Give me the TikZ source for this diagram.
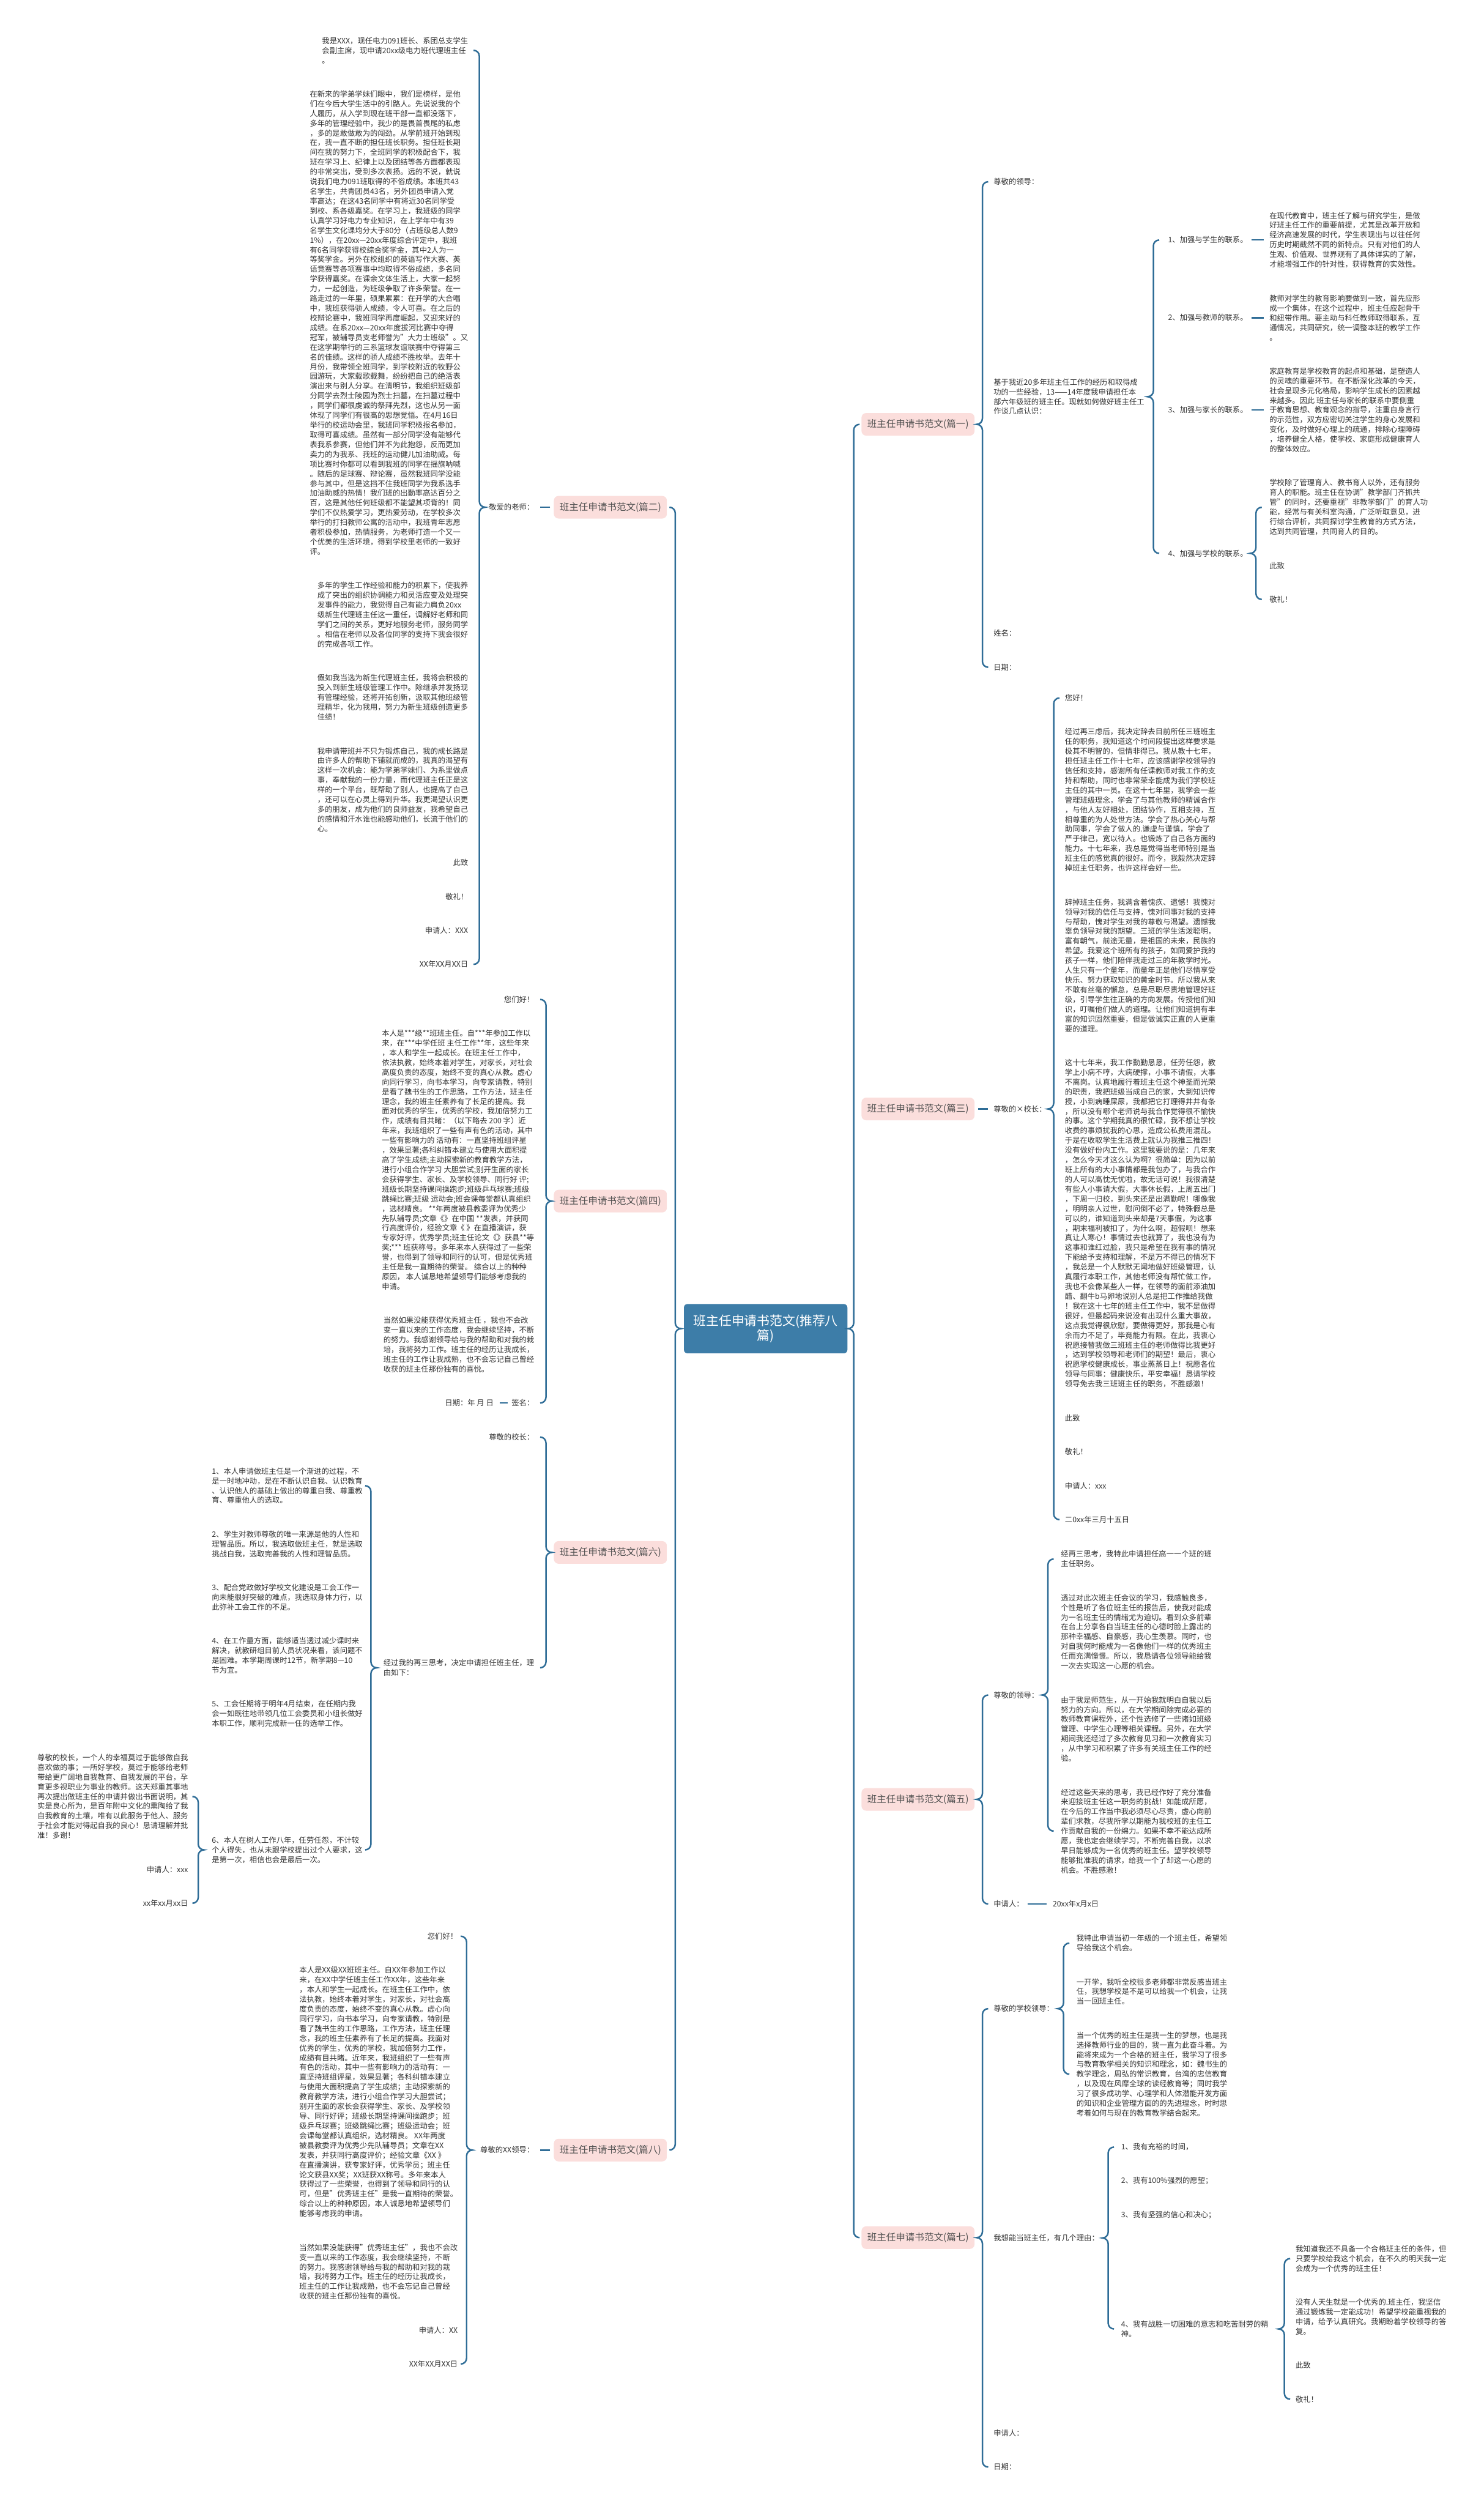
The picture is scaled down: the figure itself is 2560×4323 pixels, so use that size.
\documentclass[tikz,border=0pt]{standalone}
\usepackage{fontspec}
\setmainfont{Noto Sans CJK SC}
\usetikzlibrary{calc}

\definecolor{rootblue}{HTML}{3D7DA8}
\definecolor{linkblue}{HTML}{2F6D97}
\definecolor{branchpink}{HTML}{FBDEDC}
\definecolor{branchtext}{HTML}{505050}
\definecolor{leaftext}{HTML}{333333}

\tikzset{
  root/.style={fill=rootblue, text=white, rounded corners=3pt, minimum width=141pt,
    minimum height=42.5pt, align=center, inner sep=2pt, font=\fontsize{11}{13}\selectfont},
  branch/.style={fill=branchpink, text=branchtext, rounded corners=4pt, minimum width=97.5pt,
    minimum height=19.5pt, inner sep=1pt, font=\fontsize{8.2}{10}\selectfont},
  leaf/.style={text=leaftext, align=left, inner sep=0pt, font=\fontsize{6.5}{8.4}\selectfont},
  link/.style={draw=linkblue, line width=1.3pt},
  tie/.style={link, shorten <=3pt, shorten >=5pt},
}

% brace opening to the right: [gap]{parent}{first child}{last child}
\newcommand\bracer[4][9.5pt]{%
  \coordinate (bt) at ([xshift=-#1]#3.west);
  \coordinate (bm) at (#2.center -| bt);
  \coordinate (bb) at (#4.west -| bt);
  \draw[link] ([xshift=5pt]bt) to[out=180,in=90] ([yshift=-5pt]bt) -- ([yshift=5pt]bm)
    to[out=-90,in=0] ([xshift=-5pt]bm) to[out=0,in=90] ([yshift=-5pt]bm) -- ([yshift=5pt]bb)
    to[out=-90,in=180] ([xshift=5pt]bb);
}
% brace opening to the left
\newcommand\bracel[4][9.5pt]{%
  \coordinate (bt) at ([xshift=#1]#3.east);
  \coordinate (bm) at (#2.center -| bt);
  \coordinate (bb) at (#4.east -| bt);
  \draw[link] ([xshift=-5pt]bt) to[out=0,in=90] ([yshift=-5pt]bt) -- ([yshift=5pt]bm)
    to[out=-90,in=180] ([xshift=5pt]bm) to[out=180,in=90] ([yshift=-5pt]bm) -- ([yshift=5pt]bb)
    to[out=-90,in=0] ([xshift=-5pt]bb);
}

\begin{document}
\begin{tikzpicture}[x=0.5pt,y=-0.5pt]
\useasboundingbox (0,0) rectangle (2560,4323);
\fill[white] (0,0) rectangle (2560,4323);

% centre and the eight branches
\node[root] (root) at (1321,2292) {班主任申请书范文(推荐八\\篇)};
\node[branch, anchor=west] (p1) at (1486,732) {班主任申请书范文(篇一)};
\node[branch, anchor=west] (p3) at (1486,1913) {班主任申请书范文(篇三)};
\node[branch, anchor=west] (p5) at (1486,3104) {班主任申请书范文(篇五)};
\node[branch, anchor=west] (p7) at (1486,3860) {班主任申请书范文(篇七)};
\node[branch, anchor=east] (p2) at (1151,875) {班主任申请书范文(篇二)};
\node[branch, anchor=east] (p4) at (1151,2072) {班主任申请书范文(篇四)};
\node[branch, anchor=east] (p6) at (1151,2678) {班主任申请书范文(篇六)};
\node[branch, anchor=east] (p8) at (1151,3709) {班主任申请书范文(篇八)};
\bracer[6.5pt]{root}{p1}{p7}
\bracel[7pt]{root}{p2}{p8}

% 篇一
\node[leaf, anchor=west] (p1a) at (1714,313.5) {尊敬的领导：};
\node[leaf, anchor=west] (p1b) at (1714,684.3) {基于我近20多年班主任工作的经历和取得成\\功的一些经验，13——14年度我申请担任本\\部六年级班的班主任。现就如何做好班主任工\\作谈几点认识：};
\node[leaf, anchor=west] (p1c) at (1714,1092.6) {姓名：};
\node[leaf, anchor=west] (p1d) at (1714,1151.1) {日期：};
\bracer{p1}{p1a}{p1d}
\node[leaf, anchor=west] (p1b1) at (2015,414) {1、加强与学生的联系。};
\node[leaf, anchor=west] (p1b2) at (2015,548.1) {2、加强与教师的联系。};
\node[leaf, anchor=west] (p1b3) at (2015,707.4) {3、加强与家长的联系。};
\node[leaf, anchor=west] (p1b4) at (2015,954.6) {4、加强与学校的联系。};
\bracer[12.5pt]{p1b}{p1b1}{p1b4}
\node[leaf, anchor=west] (p1b1x) at (2190,414) {在现代教育中，班主任了解与研究学生，是做\\好班主任工作的重要前提，尤其是改革开放和\\经济高速发展的时代，学生表现出与以往任何\\历史时期截然不同的新特点。只有对他们的人\\生观、价值观、世界观有了具体详实的了解，\\才能增强工作的针对性，获得教育的实效性。};
\node[leaf, anchor=west] (p1b2x) at (2190,548.1) {教师对学生的教育影响要做到一致，首先应形\\成一个集体，在这个过程中，班主任应起骨干\\和纽带作用。要主动与科任教师取得联系，互\\通情况，共同研究，统一调整本班的教学工作\\。};
\node[leaf, anchor=west] (p1b3x) at (2190,707.4) {家庭教育是学校教育的起点和基础，是塑造人\\的灵魂的重要环节。在不断深化改革的今天，\\社会呈现多元化格局，影响学生成长的因素越\\来越多。因此 班主任与家长的联系中要侧重\\于教育思想、教育观念的指导，注重自身言行\\的示范性，双方应密切关注学生的身心发展和\\变化，及时做好心理上的疏通，排除心理障碍\\，培养健全人格，使学校、家庭形成健康育人\\的整体效应。};
\node[leaf, anchor=west] (p1b4a) at (2190,875.1) {学校除了管理育人、教书育人以外，还有服务\\育人的职能。班主任在协调"教学部门齐抓共\\管"的同时，还要重视"非教学部门"的育人功\\能，经常与有关科室沟通，广泛听取意见，进\\行综合评析，共同探讨学生教育的方式方法，\\达到共同管理，共同育人的目的。};
\node[leaf, anchor=west] (p1b4b) at (2190,975.6) {此致};
\node[leaf, anchor=west] (p1b4c) at (2190,1034.1) {敬礼！};
\draw[tie] (p1b1.east) -- (p1b1x.west);
\draw[tie] (p1b2.east) -- (p1b2x.west);
\draw[tie] (p1b3.east) -- (p1b3x.west);
\bracer[11.5pt]{p1b4}{p1b4a}{p1b4c}

% 篇三
\node[leaf, anchor=west] (p3a) at (1714,1913) {尊敬的×校长：};
\draw[tie] (p3.east) -- (p3a.west);
\node[leaf, anchor=west] (p3a1) at (1837,1204) {您好！};
\node[leaf, anchor=west] (p3a2) at (1837,1380.1) {经过再三虑后，我决定辞去目前所任三班班主\\任的职务，我知道这个时间段提出这样要求是\\极其不明智的，但情非得已。我从教十七年，\\担任班主任工作十七年，应该感谢学校领导的\\信任和支持，感谢所有任课教师对我工作的支\\持和帮助，同时也非常荣幸能成为我们学校班\\主任的其中一员。在这十七年里，我学会一些\\管理班级理念，学会了与其他教师的精诚合作\\，与他人友好相处，团结协作，互相支持，互\\相尊重的为人处世方法。学会了热心关心与帮\\助同事，学会了做人的.谦虚与谨慎，学会了\\严于律己，宽以待人。也锻炼了自己各方面的\\能力。十七年来，我总是觉得当老师特别是当\\班主任的感觉真的很好。而今，我毅然决定辞\\掉班主任职务，也许这样会好一些。};
\node[leaf, anchor=west] (p3a3) at (1837,1665.4) {辞掉班主任务，我满含着愧疚、遗憾！我愧对\\领导对我的信任与支持，愧对同事对我的支持\\与帮助，愧对学生对我的尊敬与渴望。遗憾我\\辜负领导对我的期望。三班的学生活泼聪明，\\富有朝气，前途无量，是祖国的未来，民族的\\希望。我爱这个班所有的孩子，如同爱护我的\\孩子一样，他们陪伴我走过三的年教学时光。\\人生只有一个童年，而童年正是他们尽情享受\\快乐、努力获取知识的黄金时节。所以我从来\\不敢有丝毫的懈怠，总是尽职尽责地管理好班\\级，引导学生往正确的方向发展。传授他们知\\识，叮嘱他们做人的道理。让他们知道拥有丰\\富的知识固然重要，但是做诚实正直的人更重\\要的道理。};
\node[leaf, anchor=west] (p3a4) at (1837,2110.3) {这十七年来，我工作勤勤恳恳，任劳任怨，教\\学上小病不哼，大病硬撑，小事不请假，大事\\不离岗。认真地履行着班主任这个神圣而光荣\\的职责，我把班级当成自己的家，大到知识传\\授，小到病睡屎尿，我都把它打理得井井有条\\，所以没有哪个老师说与我合作觉得很不愉快\\的事。这个学期我真的很忙碌，我不想让学校\\收费的事烦扰我的心思，造成公私费用混乱。\\于是在收取学生生活费上就认为我推三推四！\\没有做好份内工作。这里我要说的是：几年来\\，怎么今天才这么认为啊？很简单：因为以前\\班上所有的大小事情都是我包办了，与我合作\\的人可以高忱无忧啦，故无话可说！我很清楚\\有些人小事请大假，大事休长假，上周五出门\\，下周一归校，到头来还是出满勤呢！哪像我\\，明明亲人过世，慰问倒不必了，特殊假总是\\可以的，谁知道到头来却是7天事假，为这事\\，期末福利被扣了，为什么啊，超假呗！想来\\真让人寒心！事情过去也就算了，我也没有为\\这事和谁红过脸，我只是希望在我有事的情况\\下能给予支持和理解，不是万不得已的情况下\\，我总是一个人默默无闻地做好班级管理，认\\真履行本职工作，其他老师没有帮忙做工作，\\我也不会像某些人一样，在领导的面前添油加\\醋、翻牛b马卵地说别人总是把工作推给我做\\！我在这十七年的班主任工作中，我不是做得\\很好，但最起码来说没有出现什么重大事故，\\这点我觉得很欣慰，要做得更好，那我是心有\\余而力不足了，毕竟能力有限。在此，我衷心\\祝愿接替我做三班班主任的老师做得比我更好\\，达到学校领导和老师们的期望！最后，衷心\\祝愿学校健康成长，事业蒸蒸日上！祝愿各位\\领导与同事：健康快乐，平安幸福！恳请学校\\领导免去我三班班主任的职务，不胜感激！};
\node[leaf, anchor=west] (p3a5) at (1837,2446) {此致};
\node[leaf, anchor=west] (p3a6) at (1837,2504.5) {敬礼！};
\node[leaf, anchor=west] (p3a7) at (1837,2563) {申请人：xxx};
\node[leaf, anchor=west] (p3a8) at (1837,2621.5) {二0xx年三月十五日};
\bracer{p3a}{p3a1}{p3a8}

% 篇五
\node[leaf, anchor=west] (p5a) at (1714,2924) {尊敬的领导：};
\node[leaf, anchor=west] (p5b) at (1714,3284.5) {申请人：};
\node[leaf, anchor=west] (p5b1) at (1816,3284.5) {20xx年x月x日};
\bracer{p5}{p5a}{p5b}
\draw[tie] (p5b.east) -- (p5b1.west);
\node[leaf, anchor=west] (p5a1) at (1830,2689.3) {经再三思考，我特此申请担任高一一个班的班\\主任职务。};
\node[leaf, anchor=west] (p5a2) at (1830,2815) {透过对此次班主任会议的学习，我感触良多，\\个性是听了各位班主任的报告后，使我对能成\\为一名班主任的情绪尤为迫切。看到众多前辈\\在台上分享各自当班主任的心德时脸上露出的\\那种幸福感、自豪感，我心生羡慕。同时，也\\对自我何时能成为一名像他们一样的优秀班主\\任而充满憧憬。所以，我恳请各位领导能给我\\一次去实现这一心愿的机会。};
\node[leaf, anchor=west] (p5a3) at (1830,2982.7) {由于我是师范生，从一开始我就明白自我以后\\努力的方向。所以，在大学期间除完成必要的\\教师教育课程外，还个性选修了一些诸如班级\\管理、中学生心理等相关课程。另外，在大学\\期间我还经过了多次教育见习和一次教育实习\\，从中学习和积累了许多有关班主任工作的经\\验。};
\node[leaf, anchor=west] (p5a4) at (1830,3158.8) {经过这些天来的思考，我已经作好了充分准备\\来迎接班主任这一职务的挑战！如能成所愿，\\在今后的工作当中我必须尽心尽责，虚心向前\\辈们求教，尽我所学以期能为我校班的主任工\\作贡献自我的一份绵力。如果不幸不能达成所\\愿，我也定会继续学习，不断完善自我，以求\\早日能够成为一名优秀的班主任。望学校领导\\能够批准我的请求，给我一个了却这一心愿的\\机会。不胜感激！};
\bracer[11pt]{p5a}{p5a1}{p5a4}

% 篇七
\node[leaf, anchor=west] (p7a) at (1714,3465) {尊敬的学校领导：};
\node[leaf, anchor=west] (p7b) at (1714,3860.6) {我想能当班主任，有几个理由：};
\node[leaf, anchor=west] (p7c) at (1714,4197.3) {申请人：};
\node[leaf, anchor=west] (p7d) at (1714,4255.8) {日期：};
\bracer{p7}{p7a}{p7d}
\node[leaf, anchor=west] (p7a1) at (1857,3351.9) {我特此申请当初一年级的一个班主任，希望领\\导给我这个机会。};
\node[leaf, anchor=west] (p7a2) at (1857,3435.6) {一开学，我听全校很多老师都非常反感当班主\\任，我想学校是不是可以给我一个机会，让我\\当一回班主任。};
\node[leaf, anchor=west] (p7a3) at (1857,3578.1) {当一个优秀的班主任是我一生的梦想，也是我\\选择教师行业的目的，我一直为此奋斗着。为\\能将来成为一个合格的班主任，我学习了很多\\与教育教学相关的知识和理念，如：魏书生的\\教学理念，周弘的常识教育，台湾的忠信教育\\，以及现在风靡全球的读经教育等；同时我学\\习了很多成功学、心理学和人体潜能开发方面\\的知识和企业管理方面的的先进理念，时时思\\考着如何与现在的教育教学结合起来。};
\bracer[11pt]{p7a}{p7a1}{p7a3}
\node[leaf, anchor=west] (p7b1) at (1934,3703.8) {1、我有充裕的时间，};
\node[leaf, anchor=west] (p7b2) at (1934,3762.3) {2、我有100\%强烈的愿望；};
\node[leaf, anchor=west] (p7b3) at (1934,3820.8) {3、我有坚强的信心和决心；};
\node[leaf, anchor=west] (p7b4) at (1934,4017.5) {4、我有战胜一切困难的意志和吃苦耐劳的精\\神。};
\bracer[11pt]{p7b}{p7b1}{p7b4}
\node[leaf, anchor=west] (p7b4a) at (2235,3896.1) {我知道我还不具备一个合格班主任的条件，但\\只要学校给我这个机会，在不久的明天我一定\\会成为一个优秀的班主任！};
\node[leaf, anchor=west] (p7b4b) at (2235,3996.6) {没有人天生就是一个优秀的.班主任，我坚信\\通过锻炼我一定能成功！希望学校能重视我的\\申请，给予认真研究。我期盼着学校领导的答\\复。};
\node[leaf, anchor=west] (p7b4c) at (2235,4080.3) {此致};
\node[leaf, anchor=west] (p7b4d) at (2235,4138.8) {敬礼！};
\bracer{p7b4}{p7b4a}{p7b4d}

% 篇二
\node[leaf, anchor=east] (p2a) at (922,875) {敬爱的老师：};
\draw[tie] (p2.west) -- (p2a.east);
\node[leaf, anchor=east] (p2a1) at (808,86.8) {我是XXX，现任电力091班长、系团总支学生\\会副主席，现申请20xx级电力班代理班主任\\。};
\node[leaf, anchor=east] (p2a2) at (808,556.9) {在新来的学弟学妹们眼中，我们是榜样，是他\\们在今后大学生活中的引路人。先说说我的个\\人履历，从入学到现在班干部一直都没落下，\\多年的管理经验中，我少的是畏首畏尾的私虑\\，多的是敢做敢为的闯劲。从学前班开始到现\\在，我一直不断的担任班长职务。担任班长期\\间在我的努力下，全班同学的积极配合下，我\\班在学习上、纪律上以及团结等各方面都表现\\的非常突出，受到多次表扬。远的不说，就说\\说我们电力091班取得的不俗成绩。本班共43\\名学生，共青团员43名，另外团员申请入党\\率高达；在这43名同学中有将近30名同学受\\到校、系各级嘉奖。在学习上，我班级的同学\\认真学习好电力专业知识，在上学年中有39\\名学生文化课均分大于80分（占班级总人数9\\1\%），在20xx—20xx年度综合评定中，我班\\有6名同学获得校综合奖学金，其中2人为一\\等奖学金。另外在校组织的英语写作大赛、英\\语竞赛等各项赛事中均取得不俗成绩，多名同\\学获得嘉奖。在课余文体生活上，大家一起努\\力，一起创造，为班级争取了许多荣誉。在一\\路走过的一年里，硕果累累：在开学的大合唱\\中，我班获得骄人成绩，令人可喜。在之后的\\校辩论赛中，我班同学再度崛起，又迎来好的\\成绩。在系20xx—20xx年度拔河比赛中夺得\\冠军，被辅导员支老师誉为"大力士班级"。又\\在这学期举行的三系篮球友谊联赛中夺得第三\\名的佳绩。这样的骄人成绩不胜枚举。去年十\\月份，我带领全班同学，到学校附近的牧野公\\园游玩，大家载歌载舞，纷纷把自己的绝活表\\演出来与别人分享。在清明节，我组织班级部\\分同学去烈士陵园为烈士扫墓，在扫墓过程中\\，同学们都很虔诚的祭拜先烈，这也从另一面\\体现了同学们有很高的思想觉悟。在4月16日\\举行的校运动会里，我班同学积极报名参加，\\取得可喜成绩。虽然有一部分同学没有能够代\\表我系参赛，但他们并不为此抱怨，反而更加\\卖力的为我系、我班的运动健儿加油助威。每\\项比赛时你都可以看到我班的同学在摇旗呐喊\\。随后的足球赛、辩论赛，虽然我班同学没能\\参与其中，但是这挡不住我班同学为我系选手\\加油助威的热情！我们班的出勤率高达百分之\\百，这是其他任何班级都不能望其项背的！同\\学们不仅热爱学习，更热爱劳动，在学校多次\\举行的打扫教师公寓的活动中，我班青年志愿\\者积极参加，热情服务，为老师打造一个又一\\个优美的生活环境，得到学校里老师的一致好\\评。};
\node[leaf, anchor=east] (p2a3) at (808,1060.6) {多年的学生工作经验和能力的积累下，使我养\\成了突出的组织协调能力和灵活应变及处理突\\发事件的能力，我觉得自己有能力肩负20xx\\级新生代理班主任这一重任，调解好老师和同\\学们之间的关系，更好地服务老师，服务同学\\。相信在老师以及各位同学的支持下我会很好\\的完成各项工作。};
\node[leaf, anchor=east] (p2a4) at (808,1203.1) {假如我当选为新生代理班主任，我将会积极的\\投入到新生班级管理工作中。除继承并发扬现\\有管理经验，还将开拓创新，汲取其他班级管\\理精华，化为我用，努力为新生班级创造更多\\佳绩！};
\node[leaf, anchor=east] (p2a5) at (808,1362.4) {我申请带班并不只为锻炼自己，我的成长路是\\由许多人的帮助下铺就而成的，我真的渴望有\\这样一次机会：能为学弟学妹们、为系里做点\\事，奉献我的一份力量，而代理班主任正是这\\样的一个平台，既帮助了别人，也提高了自己\\，还可以在心灵上得到升华。我更渴望认识更\\多的朋友，成为他们的良师益友，我希望自己\\的感情和汗水谁也能感动他们，长流于他们的\\心。};
\node[leaf, anchor=east] (p2a6) at (808,1488.1) {此致};
\node[leaf, anchor=east] (p2a7) at (808,1546.6) {敬礼！};
\node[leaf, anchor=east] (p2a8) at (808,1605.1) {申请人：XXX};
\node[leaf, anchor=east] (p2a9) at (808,1663.6) {XX年XX月XX日};
\bracel{p2a}{p2a1}{p2a9}

% 篇四
\node[leaf, anchor=east] (p4a) at (922,1724) {您们好！};
\node[leaf, anchor=east] (p4b) at (922,2000.9) {本人是***级**班班主任。自***年参加工作以\\来，在***中学任班 主任工作**年，这些年来\\，本人和学生一起成长。在班主任工作中，\\依法执教，始终本着对学生，对家长，对社会\\高度负责的态度，始终不变的真心从教。虚心\\向同行学习，向书本学习，向专家请教，特别\\是看了魏书生的工作思路，工作方法，班主任\\理念，我的班主任素养有了长足的提高。我\\面对优秀的学生，优秀的学校，我加倍努力工\\作，成绩有目共睹：（以下略去 200 字）近\\年来，我班组织了一些有声有色的活动，其中\\一些有影响力的 活动有：一直坚持班组评星\\，效果显著;各科纠错本建立与使用大面积提\\高了学生成绩;主动探索新的教育教学方法，\\进行小组合作学习 大胆尝试;别开生面的家长\\会获得学生、家长、及学校领导、同行好 评;\\班级长期坚持课间操跑步;班级乒乓球赛;班级\\跳绳比赛;班级 运动会;班会课每堂都认真组织\\，选材精良。 **年两度被县教委评为优秀少\\先队辅导员;文章《》在中国 **发表，并获同\\行高度评价，经验文章《 》在直播演讲，获\\专家好评，优秀学员;班主任论文《》获县**等\\奖;*** 班获称号。多年来本人获得过了一些荣\\誉，也得到了领导和同行的认可，但是优秀班\\主任是我一直期待的荣誉。 综合以上的种种\\原因， 本人诚恳地希望领导们能够考虑我的\\申请。};
\node[leaf, anchor=east] (p4c) at (922,2319.8) {当然如果没能获得优秀班主任 ，我也不会改\\变一直以来的工作态度，我会继续坚持，不断\\的努力。我感谢领导给与我的帮助和对我的栽\\培，我将努力工作。班主任的经历让我成长，\\班主任的工作让我成熟，也不会忘记自己曾经\\收获的班主任那份独有的喜悦。};
\node[leaf, anchor=east] (p4d) at (922,2420.3) {签名：};
\node[leaf, anchor=east] (p4d1) at (852,2420.3) {日期：年 月 日};
\bracel[10pt]{p4}{p4a}{p4d}
\draw[tie] (p4d.west) -- (p4d1.east);

% 篇六
\node[leaf, anchor=east] (p6a) at (922,2479) {尊敬的校长：};
\node[leaf, anchor=east] (p6b) at (922,2877) {经过我的再三思考，决定申请担任班主任，理\\由如下：};
\bracel[10pt]{p6}{p6a}{p6b}
\node[leaf, anchor=east] (p6b1) at (626,2562.9) {1、本人申请做班主任是一个渐进的过程，不\\是一时地冲动，是在不断认识自我、认识教育\\、认识他人的基础上做出的尊重自我、尊重教\\育、尊重他人的选取。};
\node[leaf, anchor=east] (p6b2) at (626,2663.4) {2、学生对教师尊敬的唯一来源是他的人性和\\理智品质。所以，我选取做班主任，就是选取\\挑战自我，选取完善我的人性和理智品质。};
\node[leaf, anchor=east] (p6b3) at (626,2755.5) {3、配合党政做好学校文化建设是工会工作一\\向未能很好突破的难点，我选取身体力行，以\\此弥补工会工作的不足。};
\node[leaf, anchor=east] (p6b4) at (626,2856) {4、在工作量方面，能够适当透过减少课时来\\解决，就教研组目前人员状况来看，该问题不\\是困难。本学期周课时12节，新学期8—10\\节为宜。};
\node[leaf, anchor=east] (p6b5) at (626,2956.5) {5、工会任期将于明年4月结束，在任期内我\\会一如既往地带领几位工会委员和小组长做好\\本职工作，顺利完成新一任的选举工作。};
\node[leaf, anchor=east] (p6b6) at (626,3191.1) {6、本人在树人工作八年，任劳任怨，不计较\\个人得失，也从未跟学校提出过个人要求，这\\是第一次，相信也会是最后一次。};
\bracel[7pt]{p6b}{p6b1}{p6b6}
\node[leaf, anchor=east] (p6b6a) at (325,3099) {尊敬的校长，一个人的幸福莫过于能够做自我\\喜欢做的事；一所好学校，莫过于能够给老师\\带给更广阔地自我教育、自我发展的平台，孕\\育更多视职业为事业的教师。这天郑重其事地\\再次提出做班主任的申请并做出书面说明，其\\实是良心所为，是百年附中文化的熏陶给了我\\自我教育的土壤，唯有以此服务于他人、服务\\于社会才能对得起自我的良心！恳请理解并批\\准！多谢！};
\node[leaf, anchor=east] (p6b6b) at (325,3224.7) {申请人：xxx};
\node[leaf, anchor=east] (p6b6c) at (325,3283.2) {xx年xx月xx日};
\bracel[8.5pt]{p6b6}{p6b6a}{p6b6c}

% 篇八
\node[leaf, anchor=east] (p8a) at (922,3709) {尊敬的XX领导：};
\draw[tie] (p8.west) -- (p8a.east);
\node[leaf, anchor=east] (p8a1) at (790,3340) {您们好！};
\node[leaf, anchor=east] (p8a2) at (790,3608.5) {本人是XX级XX班班主任。自XX年参加工作以\\来，在XX中学任班主任工作XX年，这些年来\\，本人和学生一起成长。在班主任工作中，依\\法执教，始终本着对学生，对家长，对社会高\\度负责的态度，始终不变的真心从教。虚心向\\同行学习，向书本学习，向专家请教，特别是\\看了魏书生的工作思路，工作方法，班主任理\\念，我的班主任素养有了长足的提高。我面对\\优秀的学生，优秀的学校，我加倍努力工作，\\成绩有目共睹。近年来，我班组织了一些有声\\有色的活动，其中一些有影响力的活动有：一\\直坚持班组评星，效果显著；各科纠错本建立\\与使用大面积提高了学生成绩；主动探索新的\\教育教学方法，进行小组合作学习大胆尝试；\\别开生面的家长会获得学生、家长、及学校领\\导、同行好评；班级长期坚持课间操跑步；班\\级乒乓球赛；班级跳绳比赛；班级运动会；班\\会课每堂都认真组织，选材精良。 XX年两度\\被县教委评为优秀少先队辅导员；文章在XX\\发表，并获同行高度评价；经验文章《XX 》\\在直播演讲，获专家好评，优秀学员；班主任\\论文获县XX奖；XX班获XX称号。多年来本人\\获得过了一些荣誉，也得到了领导和同行的认\\可，但是"优秀班主任"是我一直期待的荣誉。\\综合以上的种种原因，本人诚恳地希望领导们\\能够考虑我的申请。};
\node[leaf, anchor=east] (p8a3) at (790,3919) {当然如果没能获得"优秀班主任"，我也不会改\\变一直以来的工作态度，我会继续坚持，不断\\的努力。我感谢领导给与我的帮助和对我的栽\\培，我将努力工作。班主任的经历让我成长，\\班主任的工作让我成熟，也不会忘记自己曾经\\收获的班主任那份独有的喜悦。};
\node[leaf, anchor=east] (p8a4) at (790,4019.5) {申请人：XX};
\node[leaf, anchor=east] (p8a5) at (790,4078) {XX年XX月XX日};
\bracel[7.5pt]{p8a}{p8a1}{p8a5}
\end{tikzpicture}
\end{document}
